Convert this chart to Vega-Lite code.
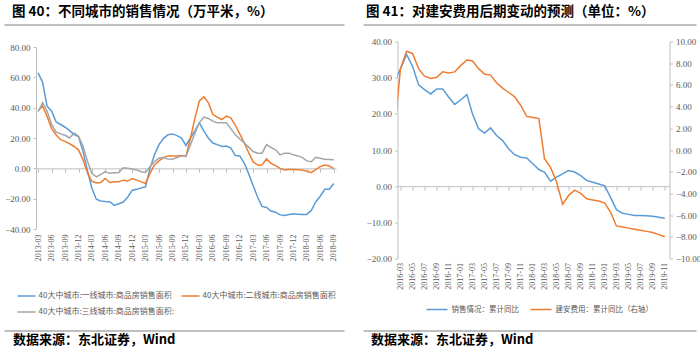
{
  "$schema": "https://vega.github.io/schema/vega-lite/v6.json",
  "padding": {"left": 3, "top": 4, "right": 0, "bottom": 0},
  "datasets": {
    "cities": [
      {"d": "2013-03-01", "一线城市": 62.9, "二线城市": 38, "三线城市": 37.3},
      {"d": "2013-04-01", "一线城市": 56.7, "二线城市": 41, "三线城市": 43.3},
      {"d": "2013-05-01", "一线城市": 41, "二线城市": 34.4, "三线城市": 37.8},
      {"d": "2013-06-01", "一线城市": 37.8, "二线城市": 26.2, "三线城市": 28.9},
      {"d": "2013-07-01", "一线城市": 30.7, "二线城市": 22.2, "三线城市": 24},
      {"d": "2013-08-01", "一线城市": 28.9, "二线城市": 18.9, "三线城市": 22.7},
      {"d": "2013-09-01", "一线城市": 27.1, "二线城市": 17.8, "三线城市": 21.8},
      {"d": "2013-10-01", "一线城市": 24.9, "二线城市": 16.2, "三线城市": 20},
      {"d": "2013-11-01", "一线城市": 22.2, "二线城市": 14.4, "三线城市": 23.3},
      {"d": "2013-12-01", "一线城市": 21, "二线城市": 12.2, "三线城市": 21.1},
      {"d": "2014-01-01", "一线城市": 11, "二线城市": 5.6, "三线城市": 14.4},
      {"d": "2014-02-01", "一线城市": -2, "二线城市": -3.3, "三线城市": 4.4},
      {"d": "2014-03-01", "一线城市": -13, "二线城市": -8.4, "三线城市": -3.3},
      {"d": "2014-04-01", "一线城市": -20.4, "二线城市": -9.6, "三线城市": -5.6},
      {"d": "2014-05-01", "一线城市": -21.5, "二线城市": -9.3, "三线城市": -4},
      {"d": "2014-06-01", "一线城市": -21.8, "二线城市": -6.7, "三线城市": -2.2},
      {"d": "2014-07-01", "一线城市": -22, "二线城市": -9.3, "三线城市": -3.3},
      {"d": "2014-08-01", "一线城市": -24.4, "二线城市": -8.9, "三线城市": -2.9},
      {"d": "2014-09-01", "一线城市": -23.3, "二线城市": -8.9, "三线城市": -2.7},
      {"d": "2014-10-01", "一线城市": -22.2, "二线城市": -7.8, "三线城市": 0.4},
      {"d": "2014-11-01", "一线城市": -18.9, "二线城市": -8.4, "三线城市": 0},
      {"d": "2014-12-01", "一线城市": -14.4, "二线城市": -6.7, "三线城市": -0.4},
      {"d": "2015-01-01", "一线城市": -13.8, "二线城市": -7.8, "三线城市": -1.1},
      {"d": "2015-02-01", "一线城市": -12.9, "二线城市": -8.9, "三线城市": -2.2},
      {"d": "2015-03-01", "一线城市": -12.2, "二线城市": -10, "三线城市": -2.7},
      {"d": "2015-04-01", "一线城市": 0, "二线城市": -3.3, "三线城市": 1.1},
      {"d": "2015-05-01", "一线城市": 8.9, "二线城市": 2.2, "三线城市": 4.4},
      {"d": "2015-06-01", "一线城市": 15.6, "二线城市": 4.9, "三线城市": 6.7},
      {"d": "2015-07-01", "一线城市": 19.6, "二线城市": 7.1, "三线城市": 7.3},
      {"d": "2015-08-01", "一线城市": 22.2, "二线城市": 8.2, "三线城市": 6.2},
      {"d": "2015-09-01", "一线城市": 22.7, "二线城市": 8.2, "三线城市": 6},
      {"d": "2015-10-01", "一线城市": 21.6, "二线城市": 8.2, "三线城市": 7.1},
      {"d": "2015-11-01", "一线城市": 20, "二线城市": 8.4, "三线城市": 8.2},
      {"d": "2015-12-01", "一线城市": 15.1, "二线城市": 8, "三线城市": 7.8},
      {"d": "2016-01-01", "一线城市": 20, "二线城市": 20, "三线城市": 15.6},
      {"d": "2016-02-01", "一线城市": 24.9, "二线城市": 33.3, "三线城市": 23.3},
      {"d": "2016-03-01", "一线城市": 30, "二线城市": 44.4, "三线城市": 30},
      {"d": "2016-04-01", "一线城市": 24.5, "二线城市": 47.1, "三线城市": 33.8},
      {"d": "2016-05-01", "一线城市": 20, "二线城市": 43.3, "三线城市": 32.9},
      {"d": "2016-06-01", "一线城市": 16.7, "二线城市": 35.6, "三线城市": 31.1},
      {"d": "2016-07-01", "一线城市": 15.6, "二线城市": 33.8, "三线城市": 30},
      {"d": "2016-08-01", "一线城市": 14.4, "二线城市": 32.2, "三线城市": 30},
      {"d": "2016-09-01", "一线城市": 14.7, "二线城市": 34.4, "三线城市": 30},
      {"d": "2016-10-01", "一线城市": 13.3, "二线城市": 33.3, "三线城市": 26.2},
      {"d": "2016-11-01", "一线城市": 8.4, "二线城市": 28.4, "三线城市": 22.2},
      {"d": "2016-12-01", "一线城市": 8.2, "二线城市": 22.7, "三线城市": 19.3},
      {"d": "2017-01-01", "一线城市": 3.3, "二线城市": 16.7, "三线城市": 16.7},
      {"d": "2017-02-01", "一线城市": -4, "二线城市": 10, "三线城市": 13.8},
      {"d": "2017-03-01", "一线城市": -11.1, "二线城市": 4.4, "三线城市": 11.1},
      {"d": "2017-04-01", "一线城市": -18.9, "二线城市": 2.2, "三线城市": 10},
      {"d": "2017-05-01", "一线城市": -25.1, "二线城市": 2.2, "三线城市": 10},
      {"d": "2017-06-01", "一线城市": -25.8, "二线城市": 6.2, "三线城市": 15.6},
      {"d": "2017-07-01", "一线城市": -28.2, "二线城市": 3.3, "三线城市": 13.8},
      {"d": "2017-08-01", "一线城市": -28.9, "二线城市": 1.8, "三线城市": 12.2},
      {"d": "2017-09-01", "一线城市": -30.7, "二线城市": 0, "三线城市": 8.9},
      {"d": "2017-10-01", "一线城市": -31.1, "二线城市": -1.1, "三线城市": 10},
      {"d": "2017-11-01", "一线城市": -30.4, "二线城市": -0.7, "三线城市": 10},
      {"d": "2017-12-01", "一线城市": -30, "二线城市": -0.7, "三线城市": 8.9},
      {"d": "2018-01-01", "一线城市": -30.2, "二线城市": -0.9, "三线城市": 8.2},
      {"d": "2018-02-01", "一线城市": -30.4, "二线城市": -1.3, "三线城市": 7.1},
      {"d": "2018-03-01", "一线城市": -30.4, "二线城市": -1.8, "三线城市": 4.9},
      {"d": "2018-04-01", "一线城市": -27.8, "二线城市": -2.9, "三线城市": 4.4},
      {"d": "2018-05-01", "一线城市": -22.2, "二线城市": -0.9, "三线城市": 7.3},
      {"d": "2018-06-01", "一线城市": -18.4, "二线城市": 1.1, "三线城市": 6.7},
      {"d": "2018-07-01", "一线城市": -13.8, "二线城市": 2.2, "三线城市": 6},
      {"d": "2018-08-01", "一线城市": -13.8, "二线城市": 1.6, "三线城市": 5.8},
      {"d": "2018-09-01", "一线城市": -10, "二线城市": -0.2, "三线城市": 5.6}
    ],
    "cost": [
      {"d": "2016-02-01", "销售情况": 29.1, "建安费用": 1.9},
      {"d": "2016-03-01", "销售情况": 32.4, "建安费用": 7.5},
      {"d": "2016-04-01", "销售情况": 36.4, "建安费用": 9.1},
      {"d": "2016-05-01", "销售情况": 33.2, "建安费用": 8.9},
      {"d": "2016-06-01", "销售情况": 28.0, "建安费用": 7.5},
      {"d": "2016-07-01", "销售情况": 26.7, "建安费用": 6.8},
      {"d": "2016-08-01", "销售情况": 25.5, "建安费用": 6.6},
      {"d": "2016-09-01", "销售情况": 26.9, "建安费用": 6.7},
      {"d": "2016-10-01", "销售情况": 26.9, "建安费用": 7.2},
      {"d": "2016-11-01", "销售情况": 24.6, "建安费用": 7.1},
      {"d": "2016-12-01", "销售情况": 22.6, "建安费用": 7.2},
      {"d": "2017-01-01", "销售情况": 23.9, "建安费用": 7.8},
      {"d": "2017-02-01", "销售情况": 25.3, "建安费用": 8.3},
      {"d": "2017-03-01", "销售情况": 20.0, "建安费用": 8.2},
      {"d": "2017-04-01", "销售情况": 15.9, "建安费用": 7.5},
      {"d": "2017-05-01", "销售情况": 14.7, "建安费用": 7.0},
      {"d": "2017-06-01", "销售情况": 16.1, "建安费用": 6.9},
      {"d": "2017-07-01", "销售情况": 14.0, "建安费用": 6.2},
      {"d": "2017-08-01", "销售情况": 12.6, "建安费用": 5.7},
      {"d": "2017-09-01", "销售情况": 10.3, "建安费用": 5.3},
      {"d": "2017-10-01", "销售情况": 8.7, "建安费用": 4.9},
      {"d": "2017-11-01", "销售情况": 8.0, "建安费用": 4.1},
      {"d": "2017-12-01", "销售情况": 7.8, "建安费用": 3.1},
      {"d": "2018-01-01", "销售情况": 6.2, "建安费用": 3.0},
      {"d": "2018-02-01", "销售情况": 4.6, "建安费用": 2.9},
      {"d": "2018-03-01", "销售情况": 3.9, "建安费用": -0.8},
      {"d": "2018-04-01", "销售情况": 1.4, "建安费用": -1.6},
      {"d": "2018-05-01", "销售情况": 2.5, "建安费用": -2.9},
      {"d": "2018-06-01", "销售情况": 3.4, "建安费用": -5.0},
      {"d": "2018-07-01", "销售情况": 4.3, "建安费用": -4.2},
      {"d": "2018-08-01", "销售情况": 3.9, "建安费用": -3.7},
      {"d": "2018-09-01", "销售情况": 2.9, "建安费用": -4.0},
      {"d": "2018-10-01", "销售情况": 1.6, "建安费用": -4.5},
      {"d": "2018-11-01", "销售情况": 1.1, "建安费用": -4.6},
      {"d": "2018-12-01", "销售情况": 0.6, "建安费用": -4.7},
      {"d": "2019-01-01", "销售情况": 0.1, "建安费用": -4.9},
      {"d": "2019-02-01", "销售情况": -3.3, "建安费用": -5.8},
      {"d": "2019-03-01", "销售情况": -6.5, "建安费用": -7.0},
      {"d": "2019-04-01", "销售情况": -7.5, "建安费用": -7.1},
      {"d": "2019-05-01", "销售情况": -7.8, "建安费用": -7.2},
      {"d": "2019-06-01", "销售情况": -8.1, "建安费用": -7.3},
      {"d": "2019-07-01", "销售情况": -8.1, "建安费用": -7.4},
      {"d": "2019-08-01", "销售情况": -8.2, "建安费用": -7.5},
      {"d": "2019-09-01", "销售情况": -8.3, "建安费用": -7.6},
      {"d": "2019-10-01", "销售情况": -8.6, "建安费用": -7.8},
      {"d": "2019-11-01", "销售情况": -8.9, "建安费用": -8.0}
    ],
    "edge": [{"a": 0, "b": 1}]
  },
  "columns": 1,
  "align": "none",
  "spacing": 14,
  "resolve": {"scale": {"color": "independent"}},
  "concat": [
    {
      "columns": 2,
      "align": "none",
      "spacing": 16.5,
      "resolve": {"scale": {"color": "independent"}},
      "concat": [
        {
          "title": {"text": "图 40：不同城市的销售情况（万平米，%）", "anchor": "start", "fontSize": 13.5, "offset": 6, "dx": 8},
          "columns": 1,
          "align": "none",
          "spacing": 17,
          "concat": [
            {
              "width": 308, "height": 1,
              "data": {"name": "edge"},
              "mark": {"type": "rule", "color": "#808080", "strokeWidth": 1.2},
              "encoding": {
                "x": {"field": "a", "type": "quantitative", "scale": {"domain": [0, 1], "range": [-31.5, 308.5], "nice": false}, "axis": null},
                "x2": {"field": "b"},
                "y": {"datum": 0, "type": "quantitative", "scale": {"domain": [0, 1]}, "axis": null}
              }
            },
            {
              "width": 300, "height": 182,
              "data": {"name": "cities"},
              "transform": [{"fold": ["一线城市", "二线城市", "三线城市"], "as": ["s", "v"]}],
              "encoding": {
                "y": {"field": "v", "type": "quantitative", "scale": {"domain": [-40, 80], "nice": false, "zero": false}, "axis": {"title": null, "values": [-40, -20, 0, 20, 40, 60, 80], "format": ".2f", "tickSize": 3, "labelPadding": 3, "minExtent": 31.5}},
                "color": {
                  "field": "s", "type": "nominal",
                  "scale": {"domain": ["一线城市", "二线城市", "三线城市"], "range": ["#5B9BD5", "#ED7D31", "#A5A5A5"]},
                  "legend": {"orient": "none", "legendX": -19.5, "legendY": 262, "direction": "horizontal", "columns": 2, "columnPadding": 4, "rowPadding": 2, "symbolType": "stroke", "symbolSize": 324, "symbolStrokeWidth": 1.5, "labelFontSize": 8, "labelLimit": 400, "labelOffset": 2, "title": null, "labelExpr": "'40大中城市:' + datum.label + ':商品房销售面积' + (datum.label == '三线城市' ? ':' : '')"}
                }
              },
              "layer": [
                {
                  "transform": [{"filter": "datum.s != '三线城市'"}],
                  "mark": {"type": "line", "strokeWidth": 1.5, "clip": true},
                  "encoding": {
                    "x": {"field": "d", "type": "temporal",
                      "scale": {"type": "utc", "domain": [{"year": 2013, "month": 2, "date": 15, "utc": true}, {"year": 2018, "month": 9, "date": 16, "utc": true}]},
                      "axis": {"title": null, "orient": "bottom", "domain": false, "ticks": false, "labelAngle": -90, "labelFontSize": 8, "labelPadding": 5, "format": "%Y-%m",
                        "values": [
                          {"year": 2013, "month": 3, "date": 1, "utc": true}, {"year": 2013, "month": 6, "date": 1, "utc": true}, {"year": 2013, "month": 9, "date": 1, "utc": true}, {"year": 2013, "month": 12, "date": 1, "utc": true},
                          {"year": 2014, "month": 3, "date": 1, "utc": true}, {"year": 2014, "month": 6, "date": 1, "utc": true}, {"year": 2014, "month": 9, "date": 1, "utc": true}, {"year": 2014, "month": 12, "date": 1, "utc": true},
                          {"year": 2015, "month": 3, "date": 1, "utc": true}, {"year": 2015, "month": 6, "date": 1, "utc": true}, {"year": 2015, "month": 9, "date": 1, "utc": true}, {"year": 2015, "month": 12, "date": 1, "utc": true},
                          {"year": 2016, "month": 3, "date": 1, "utc": true}, {"year": 2016, "month": 6, "date": 1, "utc": true}, {"year": 2016, "month": 9, "date": 1, "utc": true}, {"year": 2016, "month": 12, "date": 1, "utc": true},
                          {"year": 2017, "month": 3, "date": 1, "utc": true}, {"year": 2017, "month": 6, "date": 1, "utc": true}, {"year": 2017, "month": 9, "date": 1, "utc": true}, {"year": 2017, "month": 12, "date": 1, "utc": true},
                          {"year": 2018, "month": 3, "date": 1, "utc": true}, {"year": 2018, "month": 6, "date": 1, "utc": true}, {"year": 2018, "month": 9, "date": 1, "utc": true}
                        ]}
                    }
                  }
                },
                {
                  "transform": [{"filter": "datum.s == '三线城市'"}],
                  "mark": {"type": "line", "strokeWidth": 1.5, "clip": true},
                  "encoding": {
                    "x": {"field": "d", "type": "temporal",
                      "scale": {"type": "utc", "domain": [{"year": 2013, "month": 2, "date": 15, "utc": true}, {"year": 2018, "month": 9, "date": 16, "utc": true}]},
                      "axis": {"title": null, "orient": "bottom", "labels": false, "domain": true, "ticks": true, "tickSize": 4, "offset": -60.67,
                        "values": [
                          {"year": 2013, "month": 3, "date": 1, "utc": true}, {"year": 2013, "month": 6, "date": 1, "utc": true}, {"year": 2013, "month": 9, "date": 1, "utc": true}, {"year": 2013, "month": 12, "date": 1, "utc": true},
                          {"year": 2014, "month": 3, "date": 1, "utc": true}, {"year": 2014, "month": 6, "date": 1, "utc": true}, {"year": 2014, "month": 9, "date": 1, "utc": true}, {"year": 2014, "month": 12, "date": 1, "utc": true},
                          {"year": 2015, "month": 3, "date": 1, "utc": true}, {"year": 2015, "month": 6, "date": 1, "utc": true}, {"year": 2015, "month": 9, "date": 1, "utc": true}, {"year": 2015, "month": 12, "date": 1, "utc": true},
                          {"year": 2016, "month": 3, "date": 1, "utc": true}, {"year": 2016, "month": 6, "date": 1, "utc": true}, {"year": 2016, "month": 9, "date": 1, "utc": true}, {"year": 2016, "month": 12, "date": 1, "utc": true},
                          {"year": 2017, "month": 3, "date": 1, "utc": true}, {"year": 2017, "month": 6, "date": 1, "utc": true}, {"year": 2017, "month": 9, "date": 1, "utc": true}, {"year": 2017, "month": 12, "date": 1, "utc": true},
                          {"year": 2018, "month": 3, "date": 1, "utc": true}, {"year": 2018, "month": 6, "date": 1, "utc": true}, {"year": 2018, "month": 9, "date": 1, "utc": true}
                        ]}
                    }
                  }
                }
              ],
              "resolve": {"axis": {"x": "independent"}}
            }
          ]
        },
        {
          "title": {"text": "图 41：对建安费用后期变动的预测（单位：%）", "anchor": "start", "fontSize": 13.5, "offset": 6, "dx": 3},
          "columns": 1,
          "align": "none",
          "spacing": 11.5,
          "concat": [
            {
              "width": 299, "height": 1,
              "data": {"name": "edge"},
              "mark": {"type": "rule", "color": "#808080", "strokeWidth": 1.2},
              "encoding": {
                "x": {"field": "a", "type": "quantitative", "scale": {"domain": [0, 1], "range": [-34, 299], "nice": false}, "axis": null},
                "x2": {"field": "b"},
                "y": {"datum": 0, "type": "quantitative", "scale": {"domain": [0, 1]}, "axis": null}
              }
            },
            {
              "width": 272, "height": 217,
              "data": {"name": "cost"},
              "layer": [
                {
                  "mark": {"type": "line", "strokeWidth": 1.5, "clip": true},
                  "encoding": {
                    "x": {"field": "d", "type": "temporal",
                      "scale": {"type": "utc", "domain": [{"year": 2016, "month": 2, "date": 15, "utc": true}, {"year": 2019, "month": 11, "date": 25, "utc": true}]},
                      "axis": {"title": null, "orient": "bottom", "domain": false, "ticks": false, "labelAngle": -90, "labelFontSize": 8, "labelPadding": 4, "format": "%Y-%m",
                        "values": [
                          {"year": 2016, "month": 3, "date": 1, "utc": true}, {"year": 2016, "month": 5, "date": 1, "utc": true}, {"year": 2016, "month": 7, "date": 1, "utc": true}, {"year": 2016, "month": 9, "date": 1, "utc": true}, {"year": 2016, "month": 11, "date": 1, "utc": true},
                          {"year": 2017, "month": 1, "date": 1, "utc": true}, {"year": 2017, "month": 3, "date": 1, "utc": true}, {"year": 2017, "month": 5, "date": 1, "utc": true}, {"year": 2017, "month": 7, "date": 1, "utc": true}, {"year": 2017, "month": 9, "date": 1, "utc": true}, {"year": 2017, "month": 11, "date": 1, "utc": true},
                          {"year": 2018, "month": 1, "date": 1, "utc": true}, {"year": 2018, "month": 3, "date": 1, "utc": true}, {"year": 2018, "month": 5, "date": 1, "utc": true}, {"year": 2018, "month": 7, "date": 1, "utc": true}, {"year": 2018, "month": 9, "date": 1, "utc": true}, {"year": 2018, "month": 11, "date": 1, "utc": true},
                          {"year": 2019, "month": 1, "date": 1, "utc": true}, {"year": 2019, "month": 3, "date": 1, "utc": true}, {"year": 2019, "month": 5, "date": 1, "utc": true}, {"year": 2019, "month": 7, "date": 1, "utc": true}, {"year": 2019, "month": 9, "date": 1, "utc": true}, {"year": 2019, "month": 11, "date": 1, "utc": true}
                        ]}
                    },
                    "y": {"field": "销售情况", "type": "quantitative", "scale": {"domain": [-20, 40], "nice": false, "zero": false}, "axis": {"title": null, "orient": "left", "values": [-20, -10, 0, 10, 20, 30, 40], "format": ".2f", "tickSize": 3, "labelPadding": 3, "minExtent": 34}},
                    "color": {
                      "datum": "销售情况：累计同比", "type": "nominal",
                      "scale": {"domain": ["销售情况：累计同比", "建安费用：累计同比（右轴）"], "range": ["#5B9BD5", "#ED7D31"]},
                      "legend": {"orient": "none", "legendX": 28, "legendY": 274, "direction": "horizontal", "columnPadding": 8, "symbolType": "stroke", "symbolSize": 441, "symbolStrokeWidth": 1.5, "labelFontSize": 7.5, "labelLimit": 400, "labelOffset": 3, "title": null}
                    }
                  }
                },
                {
                  "mark": {"type": "line", "strokeWidth": 1.5, "clip": true},
                  "encoding": {
                    "x": {"field": "d", "type": "temporal",
                      "scale": {"type": "utc", "domain": [{"year": 2016, "month": 2, "date": 15, "utc": true}, {"year": 2019, "month": 11, "date": 25, "utc": true}]},
                      "axis": {"title": null, "orient": "bottom", "labels": false, "domain": true, "ticks": true, "tickSize": 4, "offset": -72.33,
                        "values": [
                          {"year": 2016, "month": 3, "date": 1, "utc": true}, {"year": 2016, "month": 5, "date": 1, "utc": true}, {"year": 2016, "month": 7, "date": 1, "utc": true}, {"year": 2016, "month": 9, "date": 1, "utc": true}, {"year": 2016, "month": 11, "date": 1, "utc": true},
                          {"year": 2017, "month": 1, "date": 1, "utc": true}, {"year": 2017, "month": 3, "date": 1, "utc": true}, {"year": 2017, "month": 5, "date": 1, "utc": true}, {"year": 2017, "month": 7, "date": 1, "utc": true}, {"year": 2017, "month": 9, "date": 1, "utc": true}, {"year": 2017, "month": 11, "date": 1, "utc": true},
                          {"year": 2018, "month": 1, "date": 1, "utc": true}, {"year": 2018, "month": 3, "date": 1, "utc": true}, {"year": 2018, "month": 5, "date": 1, "utc": true}, {"year": 2018, "month": 7, "date": 1, "utc": true}, {"year": 2018, "month": 9, "date": 1, "utc": true}, {"year": 2018, "month": 11, "date": 1, "utc": true},
                          {"year": 2019, "month": 1, "date": 1, "utc": true}, {"year": 2019, "month": 3, "date": 1, "utc": true}, {"year": 2019, "month": 5, "date": 1, "utc": true}, {"year": 2019, "month": 7, "date": 1, "utc": true}, {"year": 2019, "month": 9, "date": 1, "utc": true}, {"year": 2019, "month": 11, "date": 1, "utc": true}
                        ]}
                    },
                    "y": {"field": "建安费用", "type": "quantitative", "scale": {"domain": [-10, 10], "nice": false, "zero": false}, "axis": {"title": null, "orient": "right", "values": [-10, -8, -6, -4, -2, 0, 2, 4, 6, 8, 10], "format": ".2f", "tickSize": 3, "labelPadding": 3}},
                    "color": {"datum": "建安费用：累计同比（右轴）", "type": "nominal"}
                  }
                }
              ],
              "resolve": {"scale": {"y": "independent"}, "axis": {"x": "independent"}}
            }
          ]
        }
      ]
    },
    {
      "columns": 2,
      "align": "none",
      "spacing": 16.5,
      "concat": [
        {
          "width": 308, "height": 1,
          "title": {"text": "数据来源：东北证券，Wind", "orient": "bottom", "anchor": "start", "fontSize": 13, "offset": 2, "dx": 9},
          "data": {"name": "edge"},
          "mark": {"type": "rule", "color": "#808080", "strokeWidth": 1.2},
          "encoding": {
            "x": {"field": "a", "type": "quantitative", "scale": {"domain": [0, 1], "range": [-31.5, 308.5], "nice": false}, "axis": null},
            "x2": {"field": "b"},
            "y": {"datum": 0, "type": "quantitative", "scale": {"domain": [0, 1]}, "axis": null}
          }
        },
        {
          "width": 299, "height": 1,
          "title": {"text": "数据来源：东北证券，Wind", "orient": "bottom", "anchor": "start", "fontSize": 13, "offset": 2, "dx": 8},
          "data": {"name": "edge"},
          "mark": {"type": "rule", "color": "#808080", "strokeWidth": 1.2},
          "encoding": {
            "x": {"field": "a", "type": "quantitative", "scale": {"domain": [0, 1], "range": [-34, 299], "nice": false}, "axis": null},
            "x2": {"field": "b"},
            "y": {"datum": 0, "type": "quantitative", "scale": {"domain": [0, 1]}, "axis": null}
          }
        }
      ]
    }
  ],
  "config": {
    "view": {"stroke": null},
    "font": "Noto Sans CJK SC",
    "axis": {"grid": false, "labelFont": "Liberation Serif", "labelColor": "#595959", "labelFontSize": 9, "domainColor": "#bfbfbf", "tickColor": "#bfbfbf", "domainWidth": 1},
    "legend": {"labelFont": "Noto Sans CJK SC", "labelColor": "#595959"},
    "title": {"font": "Noto Sans CJK SC", "fontWeight": "bold", "color": "#000000"}
  }
}
